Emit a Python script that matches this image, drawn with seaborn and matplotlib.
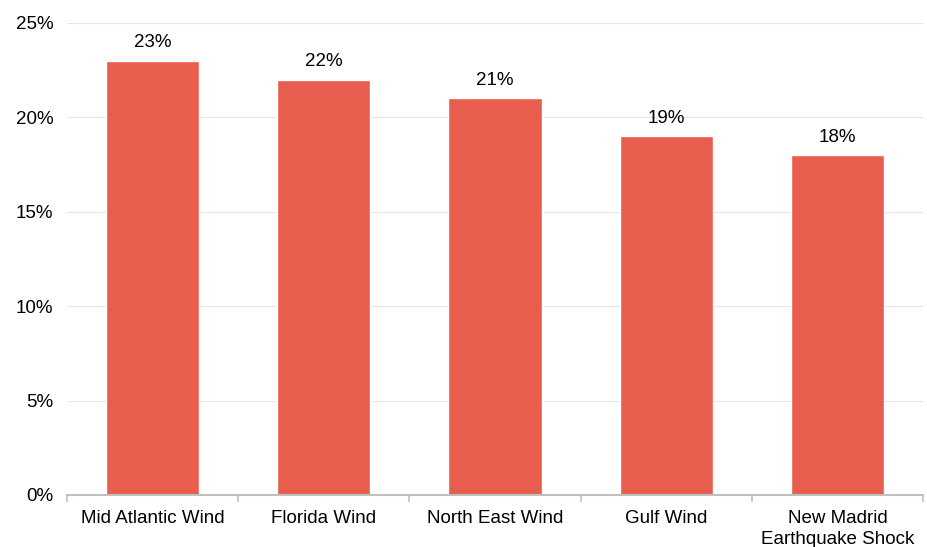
import seaborn as sns
import matplotlib.pyplot as plt
import numpy as np
from matplotlib.ticker import FixedLocator, PercentFormatter

sns.set_theme(style="white")
plt.rcParams['font.family'] = ['Liberation Sans', 'DejaVu Sans']
plt.rcParams['text.color'] = 'black'

# data
categories = ["Mid Atlantic Wind", "Florida Wind", "North East Wind",
              "Gulf Wind", "New Madrid\nEarthquake Shock"]
values = [23, 22, 21, 19, 18]  # percent

fig = plt.figure(figsize=(9.27, 5.47), dpi=100)
ax = fig.add_axes([0.0723, 0.0951, 0.9234, 0.8629])

sns.barplot(x=categories, y=values, color="#E85D4E", saturation=1,
            width=0.545, ax=ax)

ax.set_ylim(0, 25)
ax.set_xlim(-0.5, len(categories) - 0.5)
ax.set_yticks(np.arange(0, 26, 5))
ax.yaxis.set_major_formatter(PercentFormatter(decimals=0))
ax.yaxis.grid(True, color="#E6E6E6", linewidth=0.8)
ax.set_axisbelow(True)

for s in ["top", "right", "left"]:
    ax.spines[s].set_visible(False)
ax.spines["bottom"].set_color("#BFBFBF")
ax.spines["bottom"].set_linewidth(1.5)

ax.tick_params(axis="y", length=0, labelsize=13.5, colors="black", pad=10)
ax.tick_params(axis="x", which="major", length=0, labelsize=13.5,
               colors="black", pad=11)
ax.xaxis.set_minor_locator(FixedLocator(np.arange(-0.5, len(categories), 1)))
ax.tick_params(axis="x", which="minor", bottom=True, length=5, width=1.2,
               color="#BFBFBF", direction="out")
for lbl in ax.get_xticklabels():
    lbl.set_linespacing(1.3)

for i, v in enumerate(values):
    ax.text(i, v + 0.5, f"{v}%", ha="center", va="bottom", fontsize=13.5,
            color="black")

ax.set_xlabel("")
ax.set_ylabel("")

plt.savefig("out.png", dpi=100)
